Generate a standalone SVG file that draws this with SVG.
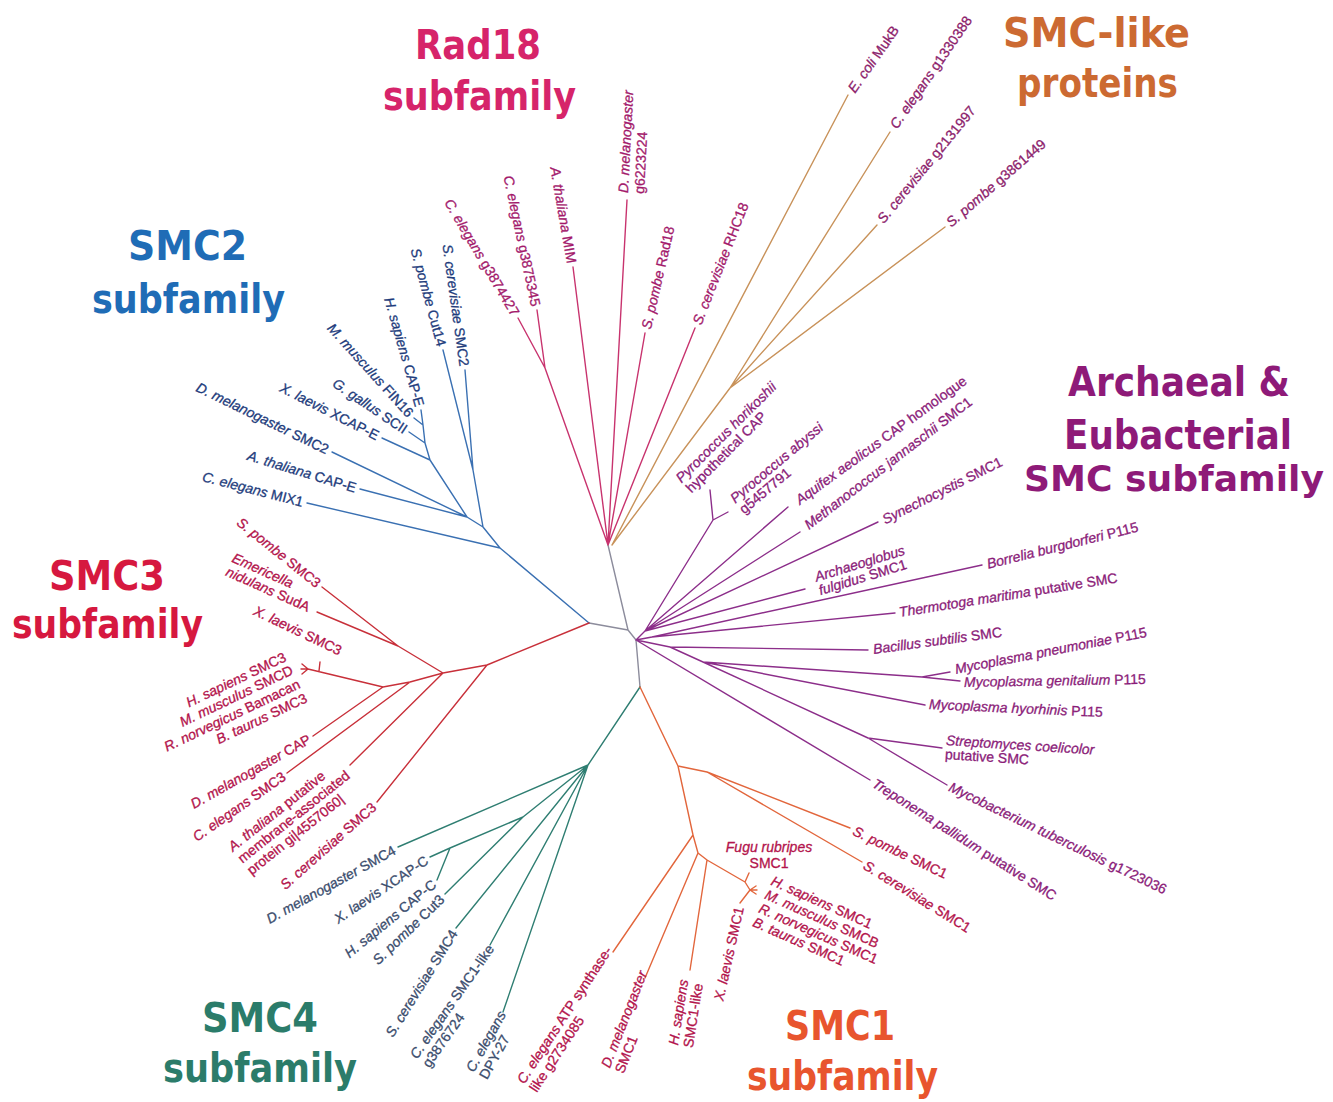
<svg xmlns="http://www.w3.org/2000/svg" width="1333" height="1102" viewBox="0 0 1333 1102">
<style>
.t{font-family:"Liberation Sans",Arial,sans-serif;font-size:14px;stroke-width:0.3}
.i{font-style:italic}
.e{text-anchor:end}
.ttl{font-family:"DejaVu Sans",sans-serif;font-weight:bold;font-size:40px}
.br path{fill:none;stroke-width:1.4;stroke-linecap:round}
.g0 path{stroke:#8c8c9c}
.g1 path{stroke:#c8336e}
.g2 path{stroke:#c8925a}
.g3 path{stroke:#3a70b2}
.g4 path{stroke:#c8303a}
.g5 path{stroke:#2f7e72}
.g6 path{stroke:#e2663c}
.g7 path{stroke:#8c2e8a}
.cR{fill:#a3196b;stroke:#a3196b}.cL{fill:#8d1e6c;stroke:#8d1e6c}.c2{fill:#1e3c7c;stroke:#1e3c7c}.c3{fill:#b3144c;stroke:#b3144c}.c4{fill:#3b4d6d;stroke:#3b4d6d}.c1{fill:#b3144c;stroke:#b3144c}.cA{fill:#8b1c79;stroke:#8b1c79}
</style>
<rect width="1333" height="1102" fill="#ffffff"/>
<g id="connectors" class="br">
<g class="g0"><path d="M608,545L628,630M589,623L628,630M628,630L636,640M636,640L640,687"/></g>
<g class="g1"><path d="M608,545L545,368M545,368L518,318M545,368L537,310M608,545L573,267M608,545L627,200M608,545L645,333M608,545L695,328"/></g>
<g class="g2"><path d="M612,545L848,95M612,545L730,388M730,388L890,132M730,388L877,225M730,388L945,227"/></g>
<g class="g3"><path d="M589,623L500,548M500,548L307,503M500,548L483,527M483,527L467,517M467,517L360,489M467,517L332,452M467,517L430,460M430,460L382,438M430,460L425,443M425,443L409,432M425,443L423,425M423,425L414,418M423,425L421,410M483,527L473,470M473,470L443,350M473,470L465,370"/></g>
<g class="g4"><path d="M589,623L487,665M487,665L377,802M487,665L443,673M443,673L398,646M398,646L322,587M398,646L317,612M443,673L350,765M443,673L410,682M410,682L287,773M410,682L383,687M383,687L313,736M383,687L308,669M319,671L320,662M308,669L302,664M308,669L301,669M308,669L302,674"/></g>
<g class="g5"><path d="M640,687L588,765M588,765L398,847M588,765L523,817M523,817L450,848M450,848L430,857M450,848L437,880M523,817L445,894M588,765L456,928M588,765L490,945M588,765L503,1012"/></g>
<g class="g6"><path d="M640,687L678,766M678,766L707,772M707,772L850,828M707,772L862,862M678,766L693,835M693,835L613,952M693,835L698,853M698,853L645,978M698,853L707,860M707,860L690,970M707,860L745,882M745,882L749,873M745,882L750,890M750,890L740,903M750,890L756,886M750,890L757,890M750,890L756,894"/></g>
<g class="g7"><path d="M636,640L645,631M645,631L713,520M713,520L710,490M713,520L728,512M645,631L788,507M645,631L800,532M645,631L878,522M645,631L805,589M636,640L652,637M652,637L982,565M652,637L895,613M636,640L670,647M670,647L868,650M670,647L703,662M703,662L922,677M922,677L950,672M922,677L960,681M703,662L925,705M703,662L868,738M868,738L942,748M868,738L947,785M636,640L870,780"/></g>
</g>
<g id="titles" class="ttl">
<g id="title-rad18" fill="#d6246a"><text x="415" y="59" textLength="126" lengthAdjust="spacingAndGlyphs">Rad18</text><text x="383" y="110" textLength="193" lengthAdjust="spacingAndGlyphs">subfamily</text></g>
<g id="title-smclike" fill="#cc6a32"><text x="1003" y="47" textLength="187" lengthAdjust="spacingAndGlyphs">SMC-like</text><text x="1017" y="97" textLength="161" lengthAdjust="spacingAndGlyphs">proteins</text></g>
<g id="title-smc2" fill="#1f6cb6"><text x="128" y="260" textLength="119" lengthAdjust="spacingAndGlyphs">SMC2</text><text x="92" y="313" textLength="193" lengthAdjust="spacingAndGlyphs">subfamily</text></g>
<g id="title-archaeal" fill="#8e1a78"><text x="1068" y="396" textLength="222" lengthAdjust="spacingAndGlyphs">Archaeal &amp;</text><text x="1064" y="449" textLength="228" lengthAdjust="spacingAndGlyphs">Eubacterial</text><text x="1024" y="491" font-size="36" textLength="300" lengthAdjust="spacingAndGlyphs">SMC subfamily</text></g>
<g id="title-smc3" fill="#d6183f"><text x="49" y="590" textLength="116" lengthAdjust="spacingAndGlyphs">SMC3</text><text x="12" y="638" textLength="191" lengthAdjust="spacingAndGlyphs">subfamily</text></g>
<g id="title-smc4" fill="#2b7c6a"><text x="202" y="1032" textLength="116" lengthAdjust="spacingAndGlyphs">SMC4</text><text x="163" y="1082" textLength="194" lengthAdjust="spacingAndGlyphs">subfamily</text></g>
<g id="title-smc1" fill="#e8552e"><text x="785" y="1040" textLength="110" lengthAdjust="spacingAndGlyphs">SMC1</text><text x="747" y="1090" textLength="191" lengthAdjust="spacingAndGlyphs">subfamily</text></g>
</g>
<g id="rad18-leaves" class="t cR">
<g id="r1" transform="translate(516,314.6) rotate(59.4)"><text class="e" y="5"><tspan class="i">C. elegans</tspan> g3874427</text></g>
<g id="r2" transform="translate(536,306) rotate(78)"><text class="e" y="5"><tspan class="i">C. elegans</tspan> g3875345</text></g>
<g id="r3" transform="translate(572,263) rotate(80)"><text class="e" y="5"><tspan class="i">A. thaliana</tspan> MIM</text></g>
<g id="r4" transform="translate(623,193) rotate(-87)"><text class="i" y="5">D. melanogaster</text><text y="21">g6223224</text></g>
<g id="r5" transform="translate(646,329) rotate(-77)"><text y="5"><tspan class="i">S. pombe</tspan> Rad18</text></g>
<g id="r6" transform="translate(696.5,324) rotate(-68.5)"><text y="5"><tspan class="i">S. cerevisiae</tspan> RHC18</text></g>
</g>
<g id="smclike-leaves" class="t cL">
<g id="l1" transform="translate(851,91) rotate(-55)"><text y="5"><tspan class="i">E. coli</tspan> MukB</text></g>
<g id="l2" transform="translate(893,127) rotate(-55.4)"><text y="5"><tspan class="i">C. elegans</tspan> g1330388</text></g>
<g id="l3" transform="translate(880,221) rotate(-50.7)"><text y="5"><tspan class="i">S. cerevisiae</tspan> g2131997</text></g>
<g id="l4" transform="translate(948,224) rotate(-40.7)"><text y="5"><tspan class="i">S. pombe</tspan> g3861449</text></g>
</g>
<g id="smc2-leaves" class="t c2">
<g id="s2a" transform="translate(303,502) rotate(14.5)"><text class="e" y="5"><tspan class="i">C. elegans</tspan> MIX1</text></g>
<g id="s2b" transform="translate(356,488) rotate(17)"><text class="e" y="5"><tspan class="i">A. thaliana</tspan> CAP-E</text></g>
<g id="s2c" transform="translate(328,450) rotate(26)"><text class="e" y="5"><tspan class="i">D. melanogaster</tspan> SMC2</text></g>
<g id="s2d" transform="translate(378,436) rotate(27)"><text class="e" y="5"><tspan class="i">X. laevis</tspan> XCAP-E</text></g>
<g id="s2e" transform="translate(406,430) rotate(34)"><text class="e" y="5"><tspan class="i">G. gallus</tspan> SCII</text></g>
<g id="s2f" transform="translate(411,415) rotate(48)"><text class="e" y="5"><tspan class="i">M. musculus</tspan> FIN16</text></g>
<g id="s2g" transform="translate(420,406) rotate(74)"><text class="e" y="5"><tspan class="i">H. sapiens</tspan> CAP-E</text></g>
<g id="s2h" transform="translate(442,346) rotate(74.7)"><text class="e" y="5"><tspan class="i">S. pombe</tspan> Cut14</text></g>
<g id="s2i" transform="translate(464.5,366) rotate(82)"><text class="e" y="5"><tspan class="i">S. cerevisiae</tspan> SMC2</text></g>
</g>
<g id="smc3-leaves" class="t c3">
<g id="s3a" transform="translate(319,584.5) rotate(38.7)"><text class="e" y="5"><tspan class="i">S. pombe</tspan> SMC3</text></g>
<g id="s3b" transform="translate(233,557) rotate(24)"><text class="i" y="5">Emericella</text><text y="20"><tspan class="i">nidulans</tspan> SudA</text></g>
<g id="s3c" transform="translate(341,651) rotate(25.5)"><text class="e" y="5"><tspan class="i">X. laevis</tspan> SMC3</text></g>
<g id="s3d" transform="translate(285,656) rotate(-25.6)"><text class="e" y="5"><tspan class="i">H. sapiens</tspan> SMC3</text></g>
<g id="s3e" transform="translate(292,669) rotate(-25.6)"><text class="e" y="5"><tspan class="i">M. musculus</tspan> SMCD</text></g>
<g id="s3f" transform="translate(299,683) rotate(-25.6)"><text class="e" y="5"><tspan class="i">R. norvegicus</tspan> Bamacan</text></g>
<g id="s3g" transform="translate(306,697) rotate(-25.6)"><text class="e" y="5"><tspan class="i">B. taurus</tspan> SMC3</text></g>
<g id="s3h" transform="translate(309.5,738) rotate(-29.5)"><text class="e" y="5"><tspan class="i">D. melanogaster</tspan> CAP</text></g>
<g id="s3i" transform="translate(284,775) rotate(-35)"><text class="e" y="5"><tspan class="i">C. elegans</tspan> SMC3</text></g>
<g id="s3j" transform="translate(230,848) rotate(-38.5)"><text y="5"><tspan class="i">A. thaliana</tspan> putative</text><text y="20">membrane-associated</text><text y="35">protein gi|4557060|</text></g>
<g id="s3k" transform="translate(374,805) rotate(-41.6)"><text class="e" y="5"><tspan class="i">S. cerevisiae</tspan> SMC3</text></g>
</g>
<g id="smc4-leaves" class="t c4">
<g id="s4a" transform="translate(394.5,849) rotate(-29)"><text class="e" y="5"><tspan class="i">D. melanogaster</tspan> SMC4</text></g>
<g id="s4b" transform="translate(426.7,859) rotate(-33.7)"><text class="e" y="5"><tspan class="i">X. laevis</tspan> XCAP-C</text></g>
<g id="s4c" transform="translate(434,882.5) rotate(-39.5)"><text class="e" y="5"><tspan class="i">H. sapiens</tspan> CAP-C</text></g>
<g id="s4d" transform="translate(442,897) rotate(-44)"><text class="e" y="5"><tspan class="i">S. pombe</tspan> Cut3</text></g>
<g id="s4e" transform="translate(454,931) rotate(-58)"><text class="e" y="5"><tspan class="i">S. cerevisiae</tspan> SMC4</text></g>
<g id="s4f" transform="translate(413,1057) rotate(-55)"><text y="5"><tspan class="i">C. elegans</tspan> SMC1-like</text><text y="20">g3876724</text></g>
<g id="s4g" transform="translate(469.5,1070.6) rotate(-61)"><text class="i" y="5">C. elegans</text><text y="20">DPY-27</text></g>
</g>
<g id="smc1-leaves" class="t c1">
<g id="s1a" transform="translate(854,830) rotate(25.6)"><text y="5"><tspan class="i">S. pombe</tspan> SMC1</text></g>
<g id="s1b" transform="translate(865,864) rotate(31.8)"><text y="5"><tspan class="i">S. cerevisiae</tspan> SMC1</text></g>
<g id="s1c" transform="translate(520,1082) rotate(-56.6)"><text y="5"><tspan class="i">C. elegans</tspan> ATP synthase-</text><text y="20">like g2734085</text></g>
<g id="s1d" transform="translate(605,1067) rotate(-68.5)"><text class="i" y="5">D. melanogaster</text><text y="20">SMC1</text></g>
<g id="s1e" transform="translate(673,1045) rotate(-81)"><text class="i" y="5">H. sapiens</text><text y="20">SMC1-like</text></g>
<g id="s1f" transform="translate(739,907) rotate(-77.6)"><text class="e" y="5"><tspan class="i">X. laevis</tspan> SMC1</text></g>
<g id="s1g"><text class="i" x="769" y="852" text-anchor="middle">Fugu rubripes</text><text x="769" y="868" text-anchor="middle">SMC1</text></g>
<g id="s1h" transform="translate(772,880) rotate(24)"><text y="5"><tspan class="i">H. sapiens</tspan> SMC1</text><text y="20"><tspan class="i">M. musculus</tspan> SMCB</text><text y="35"><tspan class="i">R. norvegicus</tspan> SMC1</text><text y="50"><tspan class="i">B. taurus</tspan> SMC1</text></g>
</g>
<g id="archaeal-leaves" class="t cA">
<g id="a1" transform="translate(678,480) rotate(-45)"><text class="i" y="5">Pyrococcus horikoshii</text><text y="19">hypothetical CAP</text></g>
<g id="a2" transform="translate(732,500) rotate(-40)"><text class="i" y="5">Pyrococcus abyssi</text><text y="19">g5457791</text></g>
<g id="a3" transform="translate(797,501) rotate(-36)"><text y="5"><tspan class="i">Aquifex aeolicus</tspan> CAP homologue</text></g>
<g id="a4" transform="translate(806,526) rotate(-37.5)"><text y="5"><tspan class="i">Methanococcus jannaschii</tspan> SMC1</text></g>
<g id="a5" transform="translate(883,520) rotate(-26.6)"><text y="5"><tspan class="i">Synechocystis</tspan> SMC1</text></g>
<g id="a6" transform="translate(815,577) rotate(-17)"><text class="i" y="5">Archaeoglobus</text><text y="19"><tspan class="i">fulgidus</tspan> SMC1</text></g>
<g id="a7" transform="translate(987,564) rotate(-14)"><text y="5"><tspan class="i">Borrelia burgdorferi</tspan> P115</text></g>
<g id="a8" transform="translate(899,612) rotate(-9)"><text y="5"><tspan class="i">Thermotoga maritima</tspan> putative SMC</text></g>
<g id="a9" transform="translate(873,649) rotate(-7.7)"><text y="5"><tspan class="i">Bacillus subtilis</tspan> SMC</text></g>
<g id="a10" transform="translate(955,669) rotate(-11)"><text y="5"><tspan class="i">Mycoplasma pneumoniae</tspan> P115</text></g>
<g id="a11" transform="translate(964,682) rotate(-1)"><text y="5"><tspan class="i">Mycoplasma genitalium</tspan> P115</text></g>
<g id="a12" transform="translate(929,704) rotate(2.6)"><text y="5"><tspan class="i">Mycoplasma hyorhinis</tspan> P115</text></g>
<g id="a13" transform="translate(946,740) rotate(3.7)"><text class="i" y="5">Streptomyces coelicolor</text><text y="19">putative SMC</text></g>
<g id="a14" transform="translate(950,786) rotate(25.7)"><text y="5"><tspan class="i">Mycobacterium tuberculosis</tspan> g1723036</text></g>
<g id="a15" transform="translate(874,782) rotate(32.3)"><text y="5"><tspan class="i">Treponema pallidum</tspan> putative SMC</text></g>
</g>
</svg>
